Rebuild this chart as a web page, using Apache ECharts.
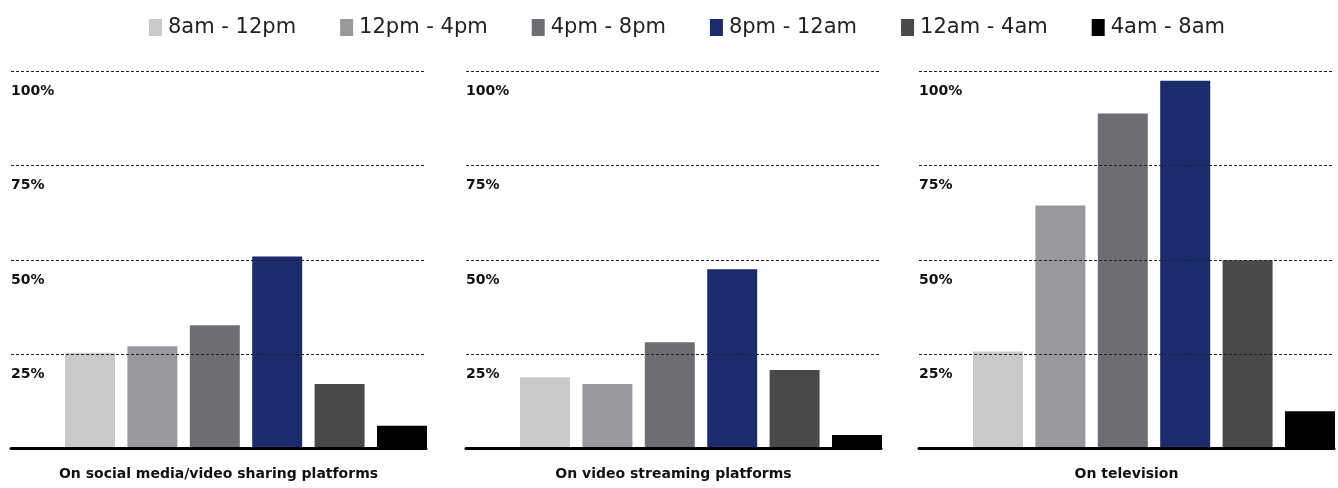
<!DOCTYPE html>
<html>
<head>
<meta charset="utf-8">
<script src="https://cdn.jsdelivr.net/npm/echarts@6/dist/echarts.min.js"></script>
<style>
html,body{margin:0;padding:0;background:#fff;}
#chart{width:1338px;height:488px;}
</style>
</head>
<body>
<div id="chart"></div>
<script>
// ---- data ----
const timeSlots = ['8am - 12pm', '12pm - 4pm', '4pm - 8pm', '8pm - 12am', '12am - 4am', '4am - 8am'];
const platforms = ['On social media/video sharing platforms', 'On video streaming platforms', 'On television'];
const socialMedia = [25.4, 27.1, 32.7, 50.9, 17.1, 6.0];
const videoStreaming = [18.9, 17.1, 28.2, 47.5, 20.8, 3.6];
const television = [25.7, 64.4, 88.8, 97.5, 49.9, 9.9];
const yTickLabels = ['', '25%', '50%', '75%', '100%'];
const slotColors = ['#c8c9cb', '#98999d', '#6d6e72', '#1b2b6e', '#48494b', '#000000'];

const panelValues = [socialMedia, videoStreaming, television];

const FONT = 'DejaVu Sans';
const panelLeft = [11, 466, 919];
const panelWidth = 415;
const barOffset = 54;
const barGroupWidth = 362;
const gridTop = 71.3;
const gridBottom = 39.5;

const grids = [], xAxes = [], yAxes = [], series = [];
panelLeft.forEach((left, p) => {
  // axes grid (gridlines, y labels, baseline, title)
  grids.push({left: left, width: panelWidth, top: gridTop, bottom: gridBottom, containLabel: false});
  // bars grid
  grids.push({left: left + barOffset, width: barGroupWidth, top: gridTop, bottom: gridBottom, containLabel: false});
  const ga = 2 * p, gb = 2 * p + 1;
  xAxes.push({
    type: 'category', gridIndex: ga, data: [platforms[p]], z: 5,
    axisLine: {show: true, lineStyle: {color: '#000', width: 3}},
    axisTick: {show: false},
    axisLabel: {fontFamily: FONT, fontWeight: 'bold', fontSize: 14, color: '#111', margin: 19}
  });
  xAxes.push({type: 'category', gridIndex: gb, data: [platforms[p]], show: false});
  yAxes.push({
    type: 'value', gridIndex: ga, min: 0, max: 100, interval: 25, z: 5,
    axisLine: {show: false}, axisTick: {show: false},
    splitLine: {show: true, lineStyle: {color: '#222', width: 1, type: [3, 2]}},
    axisLabel: {
      inside: true, margin: 0, align: 'left', verticalAlign: 'top',
      padding: [13, 0, 0, 0],
      fontFamily: FONT, fontWeight: 'bold', fontSize: 14, color: '#111',
      formatter: (v) => yTickLabels[Math.round(v / 25)]
    }
  });
  yAxes.push({type: 'value', gridIndex: gb, min: 0, max: 100, show: false, splitLine: {show: false}});
  timeSlots.forEach((slot, s) => {
    series.push({
      type: 'bar', name: slot, xAxisIndex: gb, yAxisIndex: gb,
      data: [panelValues[p][s]],
      barWidth: 50, barGap: '24.8%',
      itemStyle: {color: slotColors[s]},
      emphasis: {disabled: true},
      animation: false
    });
  });
});

const chart = echarts.init(document.getElementById('chart'), null, {renderer: 'canvas'});
chart.setOption({
  animation: false,
  color: slotColors,
  legend: {
    data: timeSlots, top: 12, left: 144,
    icon: 'rect', itemWidth: 13, itemHeight: 17, itemGap: 44,
    textStyle: {fontFamily: FONT, fontSize: 21, color: '#222', padding: [0, 0, 0, 1]},
    selectedMode: false
  },
  grid: grids,
  xAxis: xAxes,
  yAxis: yAxes,
  series: series
});
</script>
</body>
</html>
